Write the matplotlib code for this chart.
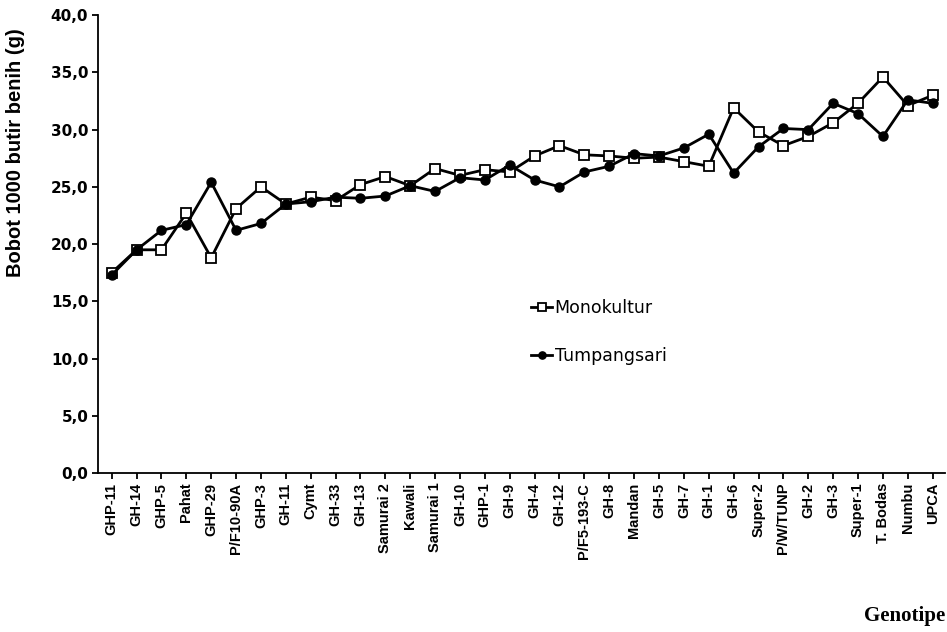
import matplotlib
matplotlib.use("Agg")
import matplotlib.pyplot as plt
import numpy as np

# Genotypes along the x axis
genotipe = ['GHP-11', 'GH-14', 'GHP-5', 'Pahat', 'GHP-29', 'P/F10-90A', 'GHP-3',
            'GH-11', 'Cymt', 'GH-33', 'GH-13', 'Samurai 2', 'Kawali', 'Samurai 1',
            'GH-10', 'GHP-1', 'GH-9', 'GH-4', 'GH-12', 'P/F5-193-C', 'GH-8',
            'Mandan', 'GH-5', 'GH-7', 'GH-1', 'GH-6', 'Super-2', 'P/W/TUNP',
            'GH-2', 'GH-3', 'Super-1', 'T. Bodas', 'Numbu', 'UPCA']

# 1000-seed weight (g)
monokultur = [17.5, 19.5, 19.5, 22.7, 18.8, 23.1, 25.0, 23.5, 24.1, 23.8, 25.2,
              25.9, 25.1, 26.6, 26.0, 26.5, 26.3, 27.7, 28.6, 27.8, 27.7, 27.5,
              27.6, 27.2, 26.8, 31.9, 29.8, 28.6, 29.4, 30.6, 32.3, 34.6, 32.1,
              33.0]
tumpangsari = [17.3, 19.5, 21.2, 21.7, 25.4, 21.2, 21.8, 23.5, 23.7, 24.1, 24.0,
               24.2, 25.1, 24.6, 25.8, 25.6, 26.9, 25.6, 25.0, 26.3, 26.8, 27.9,
               27.7, 28.4, 29.6, 26.2, 28.5, 30.1, 30.0, 32.3, 31.4, 29.4, 32.6,
               32.3]

yticks = np.arange(0, 40.1, 5)

x = np.arange(len(genotipe))

fig = plt.figure(figsize=(9.47, 6.32), dpi=100)
ax = fig.add_axes([0.1035, 0.2516, 0.8945, 0.7244])

ax.plot(x, monokultur, color='black', lw=2.0, marker='s', ms=7.5,
        mfc='white', mec='black', mew=1.3, label='Monokultur')
ax.plot(x, tumpangsari, color='black', lw=2.0, marker='o', ms=6.5,
        mfc='black', mec='black', label='Tumpangsari')

ax.set_xlim(-0.55, 33.5)
ax.set_ylim(0, 40)

ax.set_yticks(yticks)
ax.set_yticklabels([f'{v:.1f}'.replace('.', ',') for v in yticks],
                   fontsize=11, fontweight='bold', family='DejaVu Sans')
ax.set_xticks(x)
ax.set_xticklabels(genotipe, rotation=90, fontsize=10.5, fontweight='bold',
                   family='Liberation Sans')

for side in ['top', 'right']:
    ax.spines[side].set_visible(False)
for side in ['left', 'bottom']:
    ax.spines[side].set_linewidth(1.3)
ax.tick_params(direction='out', length=4, width=1.3, pad=3)

ax.set_ylabel('Bobot 1000 butir benih (g)', fontsize=14.5, fontweight='bold',
              family='Liberation Sans')
ax.yaxis.set_label_coords(-0.086, 0.70)
fig.text(0.998, 0.01, 'Genotipe', ha='right', va='bottom', fontsize=15,
         fontweight='bold', family='Liberation Serif')

ax.legend(loc='upper left', bbox_to_anchor=(0.561, 0.527),
          bbox_transform=fig.transFigure, frameon=False,
          handlelength=1.2, handletextpad=0.15, labelspacing=1.75,
          borderpad=0, borderaxespad=0, markerscale=0.8,
          prop={'family': 'DejaVu Sans', 'size': 12.5})

plt.savefig('out.png', dpi=100)
